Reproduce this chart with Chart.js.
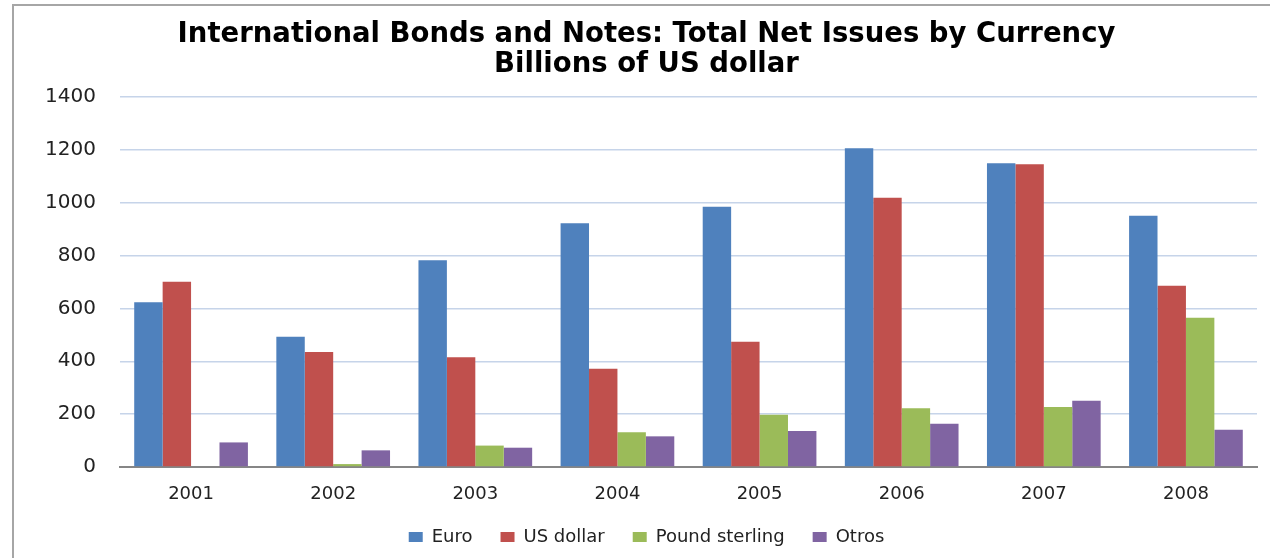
<!DOCTYPE html>
<html>
<head>
<meta charset="utf-8">
<script src="https://cdn.jsdelivr.net/npm/chart.js@4.4.1/dist/chart.umd.min.js"></script>
<style>
	html, body { margin: 0; padding: 0; background: #fff; overflow: hidden; }
	#frame { position: absolute; left: 12px; top: 4px; width: 1400px; height: 700px; border: 2px solid #a6a6a6; }
	#wrap { position: absolute; left: 0; top: 0; width: 1270px; height: 558px; }
</style>
</head>
<body>
<div id="frame"></div>
<div id="wrap"><canvas id="bar-chart"></canvas></div>
<script>
const years       = ["2001", "2002", "2003", "2004", "2005", "2006", "2007", "2008"];
const euro        = [623, 493, 782, 922, 985, 1206, 1149, 951];
const usDollar    = [701, 435, 415, 372, 474, 1019, 1145, 686];
const pound       = [0, 11, 81, 131, 198, 222, 227, 565];
const otros       = [93, 63, 73, 116, 136, 164, 251, 141];
const seriesNames = ["Euro", "US dollar", "Pound sterling", "Otros"];
const titleLines  = ["International Bonds and Notes: Total Net Issues by Currency", "Billions of US dollar"];
const yTicks      = [0, 200, 400, 600, 800, 1000, 1200, 1400];

(() => {
	const colors = ["#4f81bd", "#c0504d", "#9bbb59", "#8064a2"];
	const values = [euro, usDollar, pound, otros];

	const barCtx = document.getElementById("bar-chart").getContext('2d');
	const barData = {
		labels: years,
		datasets: seriesNames.map((name, i) => ({
			label: name,
			data: values[i],
			backgroundColor: colors[i],
			borderWidth: 0,
			categoryPercentage: 0.8,
			barPercentage: 1.0
		}))
	};

	new Chart(barCtx, {
		type: 'bar',
		data: barData,
		options: {
			responsive: true,
			maintainAspectRatio: false,
			animation: false,
			// left padding + y axis width = 120, keeps title/legend centred like the original
			layout: { padding: { left: 36, right: 13, top: 20, bottom: 2 } },
			plugins: {
				title: {
					display: true,
					text: titleLines,
					color: "#000",
					font: { family: "DejaVu Sans", size: 27.5, weight: 'bold', lineHeight: 1.09 },
					padding: { top: 0, bottom: 17 }
				},
				legend: {
					position: 'bottom',
					labels: {
						boxWidth: 14,
						boxHeight: 10,
						padding: 28,
						color: "#222",
						font: { family: "DejaVu Sans", size: 18 }
					}
				},
				tooltip: { enabled: false }
			},
			scales: {
				x: {
					afterFit(scale) { scale.height = 33 },
					grid: { display: false, drawTicks: false },
					border: { color: "#868686", width: 2 },
					ticks: { color: "#222", padding: 18, font: { family: "DejaVu Sans", size: 18, lineHeight: 1 } }
				},
				y: {
					min: 0,
					max: 1400,
					afterFit(scale) { scale.width = 84 },
					afterBuildTicks(scale) { scale.ticks = yTicks.map(v => ({ value: v })) },
					grid: { color: "#c6d4e9", lineWidth: 1.5, drawTicks: false },
					border: { display: false },
					ticks: {
						color: "#222",
						padding: 24,
						font: { family: "DejaVu Sans", size: 20 },
						callback: v => String(v)
					}
				}
			}
		}
	});
})();
</script>
</body>
</html>
